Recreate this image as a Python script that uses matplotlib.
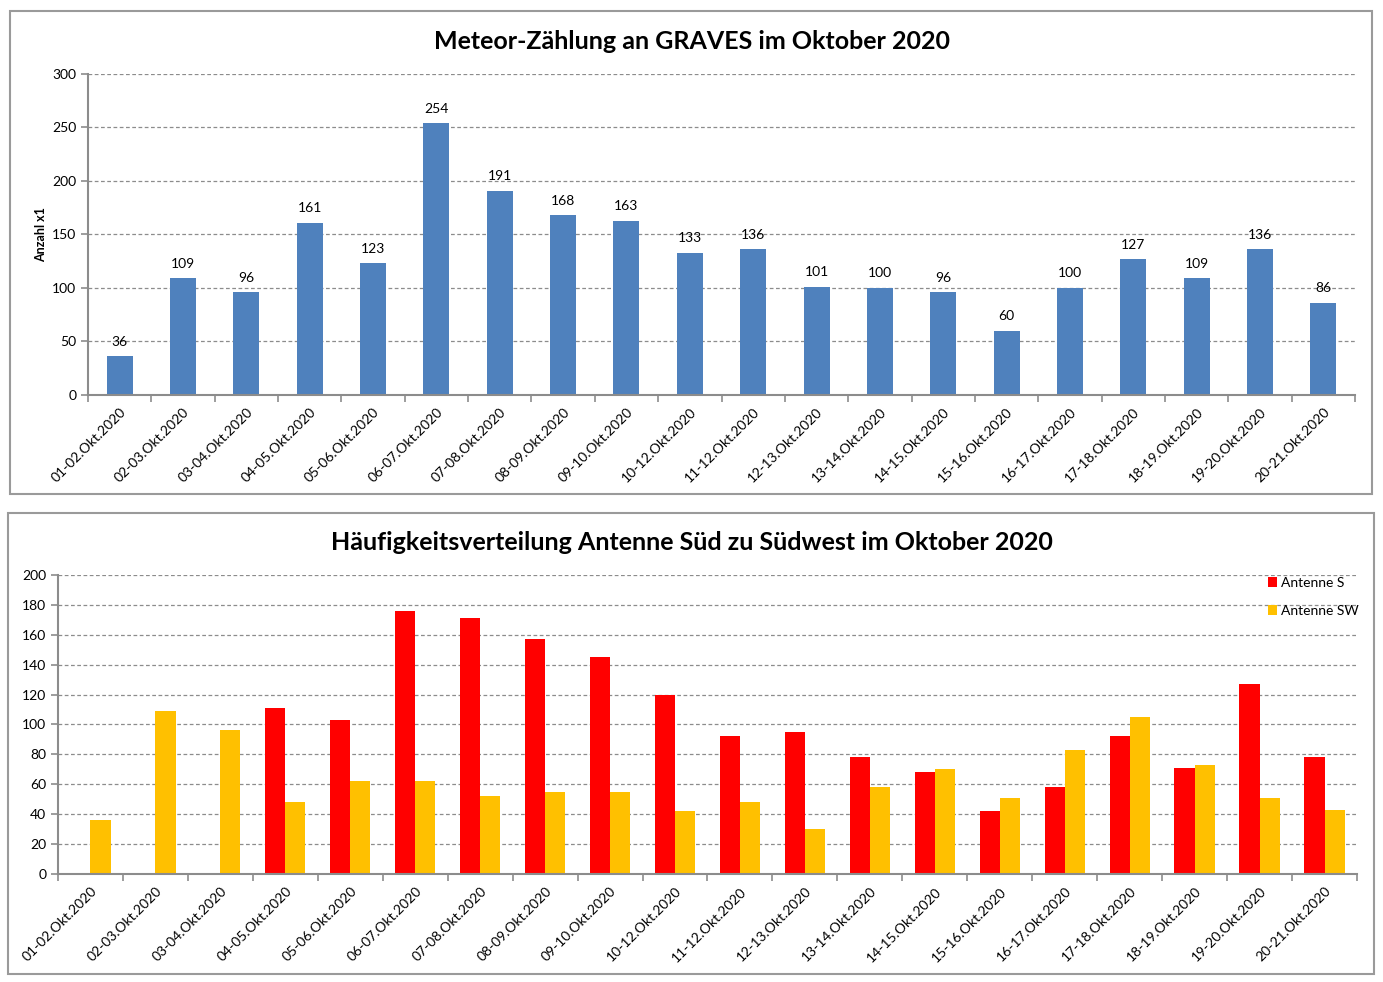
import matplotlib
matplotlib.use('Agg')
import matplotlib.pyplot as plt
import numpy as np
from matplotlib.patches import Rectangle

# data
nights = ['01-02.Okt.2020', '02-03.Okt.2020', '03-04.Okt.2020', '04-05.Okt.2020',
          '05-06.Okt.2020', '06-07.Okt.2020', '07-08.Okt.2020', '08-09.Okt.2020',
          '09-10.Okt.2020', '10-12.Okt.2020', '11-12.Okt.2020', '12-13.Okt.2020',
          '13-14.Okt.2020', '14-15.Okt.2020', '15-16.Okt.2020', '16-17.Okt.2020',
          '17-18.Okt.2020', '18-19.Okt.2020', '19-20.Okt.2020', '20-21.Okt.2020']
total_counts = [36, 109, 96, 161, 123, 254, 191, 168, 163, 133,
                136, 101, 100, 96, 60, 100, 127, 109, 136, 86]
antenna_s = [0, 0, 0, 111, 103, 176, 171, 157, 145, 120,
             92, 95, 78, 68, 42, 58, 92, 71, 127, 78]
antenna_sw = [36, 109, 96, 48, 62, 62, 52, 55, 55, 42,
              48, 30, 58, 70, 51, 83, 105, 73, 51, 43]

plt.rcParams['font.family'] = ['Lato', 'DejaVu Sans']

GRID = '#8c8c8c'
AXIS = '#8c8c8c'


def style_axes(ax, n, ymax, ystep):
    ax.set_xlim(-0.5, n - 0.5)
    ax.set_ylim(0, ymax)
    ax.set_yticks(np.arange(0, ymax + 1, ystep))
    ax.yaxis.grid(True, linestyle=(0, (3, 2)), color=GRID, linewidth=0.9)
    ax.set_axisbelow(True)
    for side in ['top', 'right']:
        ax.spines[side].set_visible(False)
    for side in ['left', 'bottom']:
        ax.spines[side].set_color(AXIS)
        ax.spines[side].set_linewidth(1.5)
    ax.set_xticks(np.arange(n))
    ax.set_xticklabels(nights, rotation=45, ha='right', rotation_mode='anchor', fontsize=10)
    ax.set_xticks(np.arange(n + 1) - 0.5, minor=True)
    ax.tick_params(axis='x', which='major', length=0, pad=8)
    ax.tick_params(axis='x', which='minor', length=5, color=AXIS, width=1.2)
    ax.tick_params(axis='y', length=5, color=AXIS, width=1.2, labelsize=10)


fig = plt.figure(figsize=(13.83, 9.82), dpi=100)

# panel frames
fig.patches.append(Rectangle((0.0072, 0.4969), 0.9848, 0.4919, transform=fig.transFigure,
                             fill=False, edgecolor='#9a9a9a', linewidth=1.5))
fig.patches.append(Rectangle((0.0058, 0.0082), 0.9877, 0.4695, transform=fig.transFigure,
                             fill=False, edgecolor='#9a9a9a', linewidth=1.5))

# top chart
x = np.arange(len(nights))
ax1 = fig.add_axes([0.0636, 0.5978, 0.9162, 0.3269])
style_axes(ax1, len(nights), 300, 50)
bars = ax1.bar(x, total_counts, width=0.41, color='#4F81BD')
for b, v in zip(bars, total_counts):
    ax1.text(b.get_x() + b.get_width() / 2, v + 8, str(v), ha='center', va='bottom', fontsize=10)
ax1.set_ylabel('Anzahl x1', fontsize=9, fontweight='bold')
ax1.yaxis.set_label_coords(-0.032, 0.5)
fig.text(0.5, 0.958, 'Meteor-Zählung an GRAVES im Oktober 2020', ha='center', va='center',
         fontsize=18, fontweight='bold')

# bottom chart
ax2 = fig.add_axes([0.0419, 0.1100, 0.9393, 0.3045])
style_axes(ax2, len(nights), 200, 20)
w = 0.31
ax2.bar(x - w / 2, antenna_s, width=w, color='#FF0000', label='Antenne S')
ax2.bar(x + w / 2, antenna_sw, width=w, color='#FFC000', label='Antenne SW')
ax2.legend(loc='upper left', bbox_to_anchor=(0.9115, 0.4195), bbox_transform=fig.transFigure,
           frameon=False, fontsize=10, handlelength=0.7, handleheight=0.7,
           handletextpad=0.3, labelspacing=1.15, borderpad=0)
fig.text(0.5, 0.448, 'Häufigkeitsverteilung Antenne Süd zu Südwest im Oktober 2020',
         ha='center', va='center', fontsize=18, fontweight='bold')

fig.savefig('out.png', dpi=100)
